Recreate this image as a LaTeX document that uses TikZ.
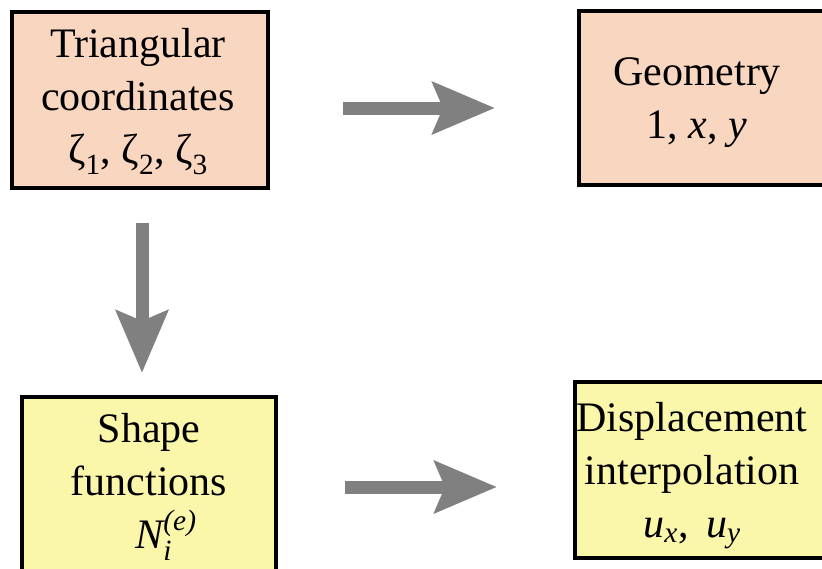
\documentclass[tikz,border=0pt]{standalone}
\usepackage{amsmath}
\usepackage{fontspec}
\setmainfont{Liberation Serif}
\usetikzlibrary{arrows.meta,positioning,calc}
\definecolor{peach}{RGB}{249,214,192}
\definecolor{paleyellow}{RGB}{250,246,170}
\definecolor{arrowgray}{RGB}{128,128,128}

\begin{document}
\begin{tikzpicture}[x=1pt,y=-1pt,box/.style={draw=black, line width=4pt, inner sep=0pt},txt/.style={align=center, inner sep=0pt, font=\fontsize{42}{53}\selectfont},flow/.style={arrowgray, line width=13pt, -{Stealth[length=62pt, width=51pt, inset=10pt]}}]
\useasboundingbox (0,0) rectangle (822,568);\clip (0,0) rectangle (822,568);
% the four boxes
\node[box, fill=peach, minimum width=256pt, minimum height=176pt] (tri) at (140,100) {};
\node[box, fill=peach, minimum width=251pt, minimum height=174pt] (geom) at (704.5,98) {};
\node[box, fill=paleyellow, minimum width=254pt, minimum height=203pt] (shape) at (149,498.5) {};
\node[box, fill=paleyellow, minimum width=255pt, minimum height=176pt] (disp) at (702.5,470) {};
% their texts
\node[txt] (tritxt) at (138,102) {Triangular\\coordinates\\ζ\textsubscript{1}, ζ\textsubscript{2}, ζ\textsubscript{3}};
\node[txt] (geomtxt) at (697,103) {Geometry\\1, \textit{x}, \textit{y}};
\node[txt] (shapetxt) at (149,487) {Shape\\functions\\\hspace*{34pt}$\textit{N}_{\textit{i}}^{\textit{(e)}}$};
\node[txt] (disptxt) at (692,476) {Displacement\\interpolation\\$\textit{u}_{\textit{x}}$,\, $\textit{u}_{\textit{y}}$};
% arrows between the boxes
\draw[flow, shorten <=73pt, shorten >=82pt] ([yshift=-8pt]tri.east) -- ([yshift=-10pt]geom.west);
\draw[flow, shorten <=33pt, shorten >=22pt] ([xshift=2pt]tri.south) -- ([xshift=-7pt]shape.north);
\draw[flow, shorten <=67pt, shorten >=76pt] ([yshift=11.5pt]shape.east) -- ([yshift=-17pt]disp.west);
\end{tikzpicture}
\end{document}
